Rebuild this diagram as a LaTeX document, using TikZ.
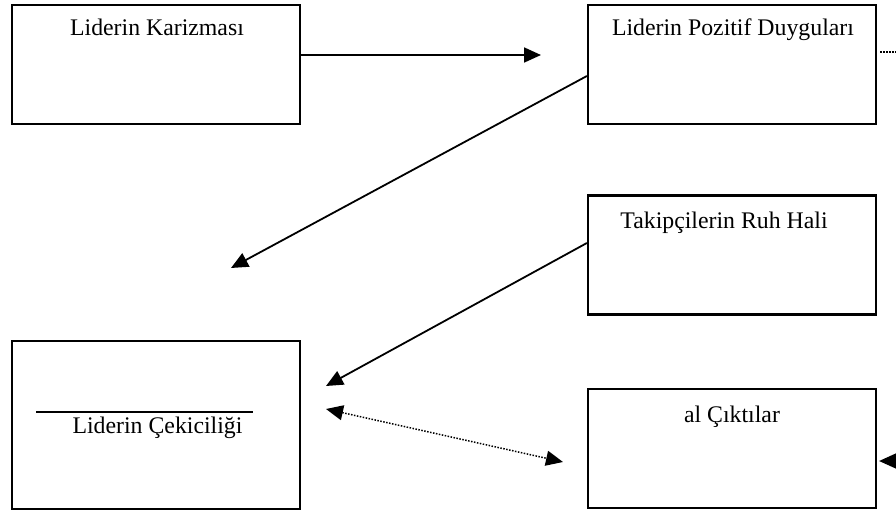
\documentclass[tikz,border=0pt]{standalone}
\usepackage{fontspec}
\setmainfont{Liberation Serif}
\usetikzlibrary{arrows.meta}
\begin{document}
\begin{tikzpicture}[x=0.5pt,y=-0.5pt,
  box/.style={draw,line width=1.1pt,minimum width=144pt,minimum height=59.5pt,inner sep=0pt},
  boxtall/.style={box,minimum height=84pt},
  lbl/.style={anchor=base,inner sep=0pt,font=\fontsize{11.9}{14}\selectfont},
  tip/.style={-{Triangle[length=8.5pt,width=7.5pt]}},
  conn/.style={line width=0.9pt,tip},
  dotconn/.style={line width=0.75pt,dash pattern=on 0.75pt off 0.75pt}]
\useasboundingbox (0,0) rectangle (896,514);
% boxes
\node[box] (k) at (156,64.5) {};
\node[box] (p) at (732,64.5) {};
\node[box] (r) at (732,255) {};
\node[boxtall] (c) at (156,425) {};
\node[box] (o) at (732,448.5) {};
% labels
\node[lbl] (kt) at (157,35) {Liderin Karizması};
\node[lbl] (pt) at (733,35) {Liderin Pozitif Duyguları};
\node[lbl] (rt) at (724,228) {Takipçilerin Ruh Hali};
\node[lbl] (ct) at (157.5,433) {Liderin Çekiciliği};
\node[lbl] (ot) at (732,422) {al Çıktılar};
% line above text
\coordinate (la) at (36,412);
\coordinate (lb) at (253,412);
\draw[line width=1.1pt] (la) -- (lb);
% free ends
\coordinate (a1) at (541,55);
\coordinate (b1) at (231,268);
\coordinate (c1) at (326,386);
\coordinate (d1) at (326,409);
\coordinate (d2) at (563,462);
\coordinate (e1) at (896,52);
\coordinate (f1) at (896,461);
% connectors
\draw[conn] (k.east |- a1) -- (a1);
\draw[conn] ([yshift=-5.75pt]p.west) -- (b1);
\draw[conn] ([yshift=6pt]r.west) -- (c1);
\draw[dotconn,{Triangle[length=8.5pt,width=7.5pt]}-{Triangle[length=8.5pt,width=7.5pt]}] (d1) -- (d2);
\draw[dotconn] ([xshift=1.5pt]p.east |- e1) -- (e1);
\draw[dotconn,tip] (f1) -- ([xshift=1pt]o.east |- f1);
\end{tikzpicture}
\end{document}
